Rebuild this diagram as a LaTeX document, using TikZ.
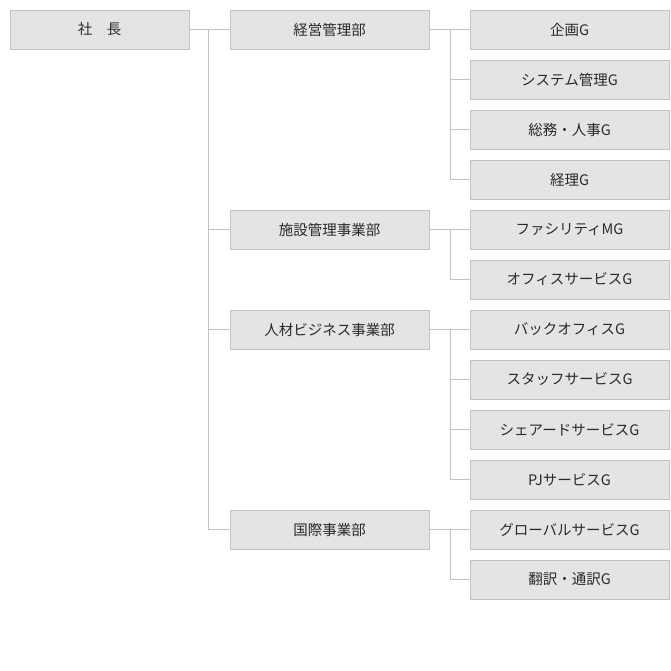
\documentclass[tikz,border=0pt]{standalone}
\usepackage{fontspec}
\usepackage{tikz}
\usepackage{xcolor}
\newfontfamily\jpfont{Noto Sans CJK JP}
\definecolor{boxfill}{HTML}{E4E4E4}
\definecolor{boxline}{HTML}{C2C2C2}
\definecolor{boxtext}{HTML}{2A2A2A}
\tikzset{
    unitbox/.style={rectangle, draw=boxline, fill=boxfill, line width=1pt,
        minimum height=39pt, inner sep=0pt, text=boxtext,
        font=\jpfont\fontsize{14.5pt}{17pt}\selectfont},
    deptbox/.style={unitbox, minimum width=199pt},
    groupbox/.style={unitbox, minimum width=199pt},
    orgline/.style={draw=boxline, line width=1pt},
}
\begin{document}
\begin{tikzpicture}[x=1pt, y=-1pt]
    \useasboundingbox (0,0) rectangle (671,670);
    % president
    \node[unitbox, minimum width=179pt] (pres) at (99.5,29.5) {社　長};
    % departments
    \node[deptbox] (mgmt) at (329.5,29.5) {経営管理部};
    \node[deptbox] (fac) at (329.5,229.5) {施設管理事業部};
    \node[deptbox] (hr) at (329.5,329.5) {人材ビジネス事業部};
    \node[deptbox] (intl) at (329.5,529.5) {国際事業部};
    % groups
    \foreach \y/\name/\txt in {
        29.5/plan/企画G,
        79.5/sys/システム管理G,
        129.5/gen/総務・人事G,
        179.5/acc/経理G,
        229.5/fm/ファシリティMG,
        279.5/ofs/オフィスサービスG,
        329.5/bo/バックオフィスG,
        379.5/stf/スタッフサービスG,
        429.5/shr/シェアードサービスG,
        479.5/pj/PJサービスG,
        529.5/glb/グローバルサービスG,
        579.5/trn/翻訳・通訳G
    } {
        \node[groupbox] (\name) at (569.5,\y) {\txt};
    }
    % trunk
    \coordinate (trunk) at (208.5,29.5);
    \draw[orgline] (pres.east) -- (mgmt.west);
    \foreach \d in {fac, hr, intl} {
        \draw[orgline] (trunk) |- (\d.west);
    }
    % branches
    \coordinate (bmgmt) at (450.5,29.5);
    \coordinate (bfac) at (450.5,229.5);
    \coordinate (bhr) at (450.5,329.5);
    \coordinate (bintl) at (450.5,529.5);
    \draw[orgline] (mgmt.east) -- (plan.west);
    \foreach \g in {sys, gen, acc} {
        \draw[orgline] (bmgmt) |- (\g.west);
    }
    \draw[orgline] (fac.east) -- (fm.west);
    \draw[orgline] (bfac) |- (ofs.west);
    \draw[orgline] (hr.east) -- (bo.west);
    \foreach \g in {stf, shr, pj} {
        \draw[orgline] (bhr) |- (\g.west);
    }
    \draw[orgline] (intl.east) -- (glb.west);
    \draw[orgline] (bintl) |- (trn.west);
\end{tikzpicture}
\end{document}
